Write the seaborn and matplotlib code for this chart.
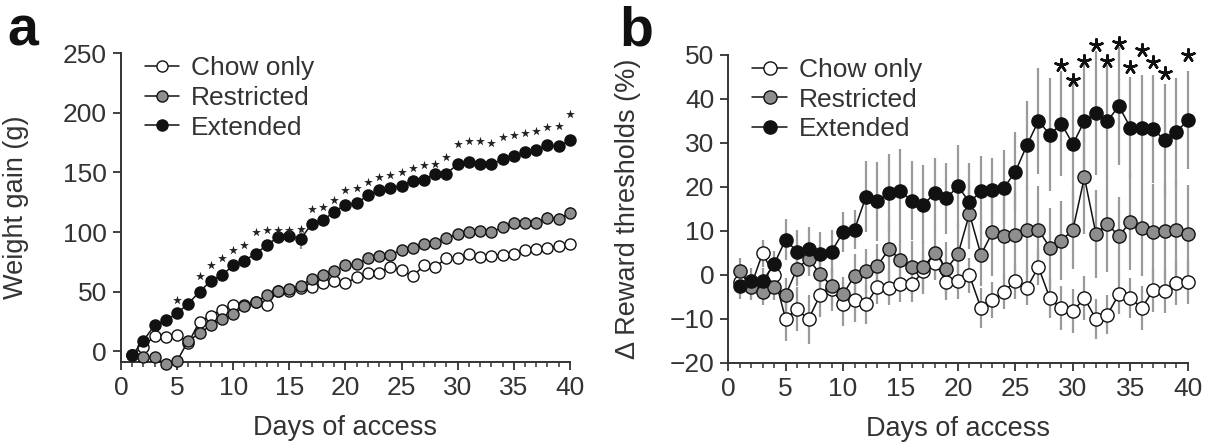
import numpy as np
import pandas as pd
import matplotlib
matplotlib.use("Agg")
import matplotlib.pyplot as plt
import seaborn as sns

days = list(range(1, 41))
groups = ["Chow only", "Restricted", "Extended"]
face = {"Chow only": "white", "Restricted": "#8e8e8e", "Extended": "#111111"}

# panel a: weight gain (g)
gain_chow = [-3, 4, 13, 12, 14, 7, 25, 30, 35, 39, 39, 41, 39, 51, 51, 53, 54, 57, 59, 57,
             62, 66, 66, 71, 68, 63, 72, 71, 78, 78, 82, 79, 80, 81, 82, 85, 86, 87, 88, 90]
gain_res = [-3, -5, -5, -11, -8, 9, 15, 22, 27, 31, 38, 41, 47, 51, 52, 55, 61, 64, 67, 72,
            73, 78, 80, 81, 85, 87, 90, 91, 95, 98, 100, 101, 100, 104, 108, 108, 108, 112, 111, 116]
gain_ext = [-3, 9, 22, 26, 32, 40, 50, 59, 64, 72, 76, 82, 89, 96, 97, 94, 107, 110, 117, 123,
            124, 131, 135, 137, 139, 143, 144, 149, 149, 157, 159, 157, 157, 161, 164, 167, 169, 173, 172, 177]
gain_err_chow = [1, 2, 2, 2, 2, 2, 2, 2, 2, 2, 2, 2, 4, 2, 2, 2, 2, 2, 2, 2,
                 2, 2, 2, 2, 2, 2, 2, 2, 2, 2, 2, 2, 2, 2, 2, 2, 2, 2, 2, 2]
gain_err_res = [1, 2, 2, 2, 2, 2, 2, 2, 2, 2, 2, 2, 2, 2, 2, 2, 3, 3, 3, 3,
                3, 3, 3, 3, 3, 3, 3, 4, 4, 4, 4, 4, 4, 4, 5, 5, 5, 5, 5, 5]
gain_err_ext = [1, 2, 2, 2, 3, 3, 3, 3, 3, 3, 3, 3, 3, 3, 4, 8, 3, 3, 3, 3,
                3, 3, 3, 3, 3, 3, 3, 3, 3, 3, 3, 3, 3, 3, 4, 4, 4, 4, 4, 4]
star_a_days = [5] + list(range(7, 41))
star_a_y = [43, 63, 72, 78, 85, 89, 100, 102, 102, 102, 103, 119, 121, 127, 135, 137, 142, 146,
            148, 150, 154, 156, 157, 163, 174, 176, 176, 175, 180, 181, 183, 185, 188, 189, 199]

# panel b: change in reward thresholds (%)
thr_chow = [-1.5, -2.5, 4.9, 0, -9.9, -7.8, -10.1, -4.6, -3.3, -6.5, -5.7, -6.7, -2.7, -2.9, -2.1,
            -2.1, 0.9, 2.8, -1.6, -1.4, -0.1, -7.5, -5.7, -3.8, -1.4, -2.9, 1.8, -5.3, -7.6, -8.2,
            -5.3, -10.0, -9.0, -4.4, -5.3, -7.5, -3.4, -3.7, -1.9, -1.6]
thr_res = [0.9, -2.7, -3.9, -2.7, -4.6, 1.4, 3.7, 0.2, -2.5, -4.4, -0.2, 0.9, 2.1, 5.9, 3.4,
           1.7, 1.7, 5.1, 1.4, 4.7, 13.9, 4.6, 9.7, 8.9, 9.1, 10.3, 10.3, 6.2, 7.8, 10.3,
           22.2, 9.4, 11.6, 8.8, 12.1, 10.7, 9.7, 9.9, 10.3, 9.4]
thr_ext = [-2.4, -1.4, -1.4, 2.4, 8.0, 5.3, 6.0, 4.7, 5.3, 9.7, 10.3, 17.8, 16.7, 18.6, 19.0,
           16.9, 16.0, 18.6, 17.4, 20.2, 16.5, 19.0, 19.2, 19.8, 23.5, 29.5, 35.0, 31.9, 34.4, 29.7,
           35.0, 36.8, 35.0, 38.4, 33.5, 33.5, 33.1, 30.6, 32.5, 35.2]
thr_err_chow = [3, 3, 3, 3, 5, 5, 5.5, 5, 5, 5, 5, 4.5, 4, 4, 4, 4, 4, 4, 4, 4,
                4, 4.5, 4, 4, 4, 4, 4, 4.5, 5, 5, 5, 4.5, 4.5, 4.5, 4.5, 5, 5, 5, 5, 5]
thr_err_res = [3, 3, 3, 3, 4, 4, 4, 4, 4, 4, 5, 5, 5, 7, 6, 6, 6, 6, 6, 7,
               8, 7, 10, 10, 10, 10, 10, 9, 9, 9, 13, 10, 11, 9, 11, 11, 11, 11, 11, 11]
thr_err_ext = [3, 3, 3, 3, 4.7, 5, 5, 5, 5, 4.5, 4.5, 8, 9, 9, 9.7, 9, 9, 8, 8, 9.3,
               9, 8, 7.3, 8.5, 9, 10, 12, 12.8, 12, 14, 14, 14, 12.7, 13.5, 11.5, 12, 12.3, 12.9, 12.2, 11.2]
star_b_days = [29, 30, 31, 32, 33, 34, 35, 36, 37, 38, 40]
star_b_y = [47.7, 44.4, 48.7, 52.3, 48.7, 52.7, 47.3, 51.1, 48.5, 45.8, 50.0]

sns.set_style("ticks")
plt.rcParams["font.family"] = ["Liberation Sans", "DejaVu Sans"]
plt.rcParams["text.color"] = "#222222"

fig = plt.figure(figsize=(12.1, 4.47), dpi=100)
ax_a = fig.add_axes([0.100, 0.190, 0.371, 0.691])
ax_b = fig.add_axes([0.6017, 0.188, 0.380, 0.689])


def draw_panel(ax, values, errs, msize):
    for g in groups:
        ax.errorbar(days, values[g], yerr=errs[g], fmt="none", ecolor="#9a9a9a",
                    elinewidth=1.6, capsize=0, zorder=1, clip_on=False)
    for i, g in enumerate(groups):
        df = pd.DataFrame({"day": days, "val": values[g]})
        sns.lineplot(data=df, x="day", y="val", ax=ax, color="#111111", lw=1.1,
                     marker="o", markersize=msize, markerfacecolor=face[g],
                     markeredgecolor="#111111", markeredgewidth=1.0, label=g,
                     errorbar=None, zorder=3 + i, clip_on=False)


def style_axes(ax, ylim, yticks, ylabel, labx):
    ax.set_xlim(0, 40)
    ax.set_ylim(*ylim)
    ax.set_xticks(range(0, 41, 5))
    ax.set_xticks(range(0, 41), minor=True)
    ax.set_yticks(yticks)
    sns.despine(ax=ax)
    for s in ["left", "bottom"]:
        ax.spines[s].set_linewidth(1.4)
        ax.spines[s].set_color("#333333")
    ax.tick_params(which="major", length=6, width=1.3, color="#333333",
                   labelsize=19, labelcolor="#333333", pad=4)
    ax.tick_params(which="minor", axis="x", length=3.5, width=1.1, color="#333333")
    ax.set_xlabel("Days of access", fontsize=19.5, color="#333333", labelpad=11)
    ax.set_ylabel(ylabel, fontsize=19.5, color="#333333")
    ax.yaxis.set_label_coords(labx, 0.5)
    ax.legend(loc="upper left", bbox_to_anchor=(0.03, 1.025), frameon=False,
              fontsize=19, handlelength=1.3, handletextpad=0.45, labelspacing=0.22,
              borderaxespad=0, labelcolor="#333333")


draw_panel(ax_a, {"Chow only": gain_chow, "Restricted": gain_res, "Extended": gain_ext},
           {"Chow only": gain_err_chow, "Restricted": gain_err_res, "Extended": gain_err_ext}, 8)
ax_a.scatter(star_a_days, star_a_y, marker="*", s=45, color="#222222", linewidths=0,
             zorder=6, clip_on=False)
style_axes(ax_a, (-9, 250), range(0, 251, 50), "Weight gain (g)", -0.205)

draw_panel(ax_b, {"Chow only": thr_chow, "Restricted": thr_res, "Extended": thr_ext},
           {"Chow only": thr_err_chow, "Restricted": thr_err_res, "Extended": thr_err_ext}, 9.5)
ax_b.scatter(star_b_days, star_b_y, marker=(5, 2, 0), s=80, color="#111111",
             linewidths=1.8, zorder=6, clip_on=False)
style_axes(ax_b, (-20, 50), range(-20, 51, 10), "\u0394 Reward thresholds (%)", -0.19)

fig.text(0.006, 0.899, "a", fontsize=40, fontweight="bold", va="baseline", color="#111111")
fig.text(0.512, 0.899, "b", fontsize=40, fontweight="bold", va="baseline", color="#111111")

fig.savefig("out.png", dpi=100)
